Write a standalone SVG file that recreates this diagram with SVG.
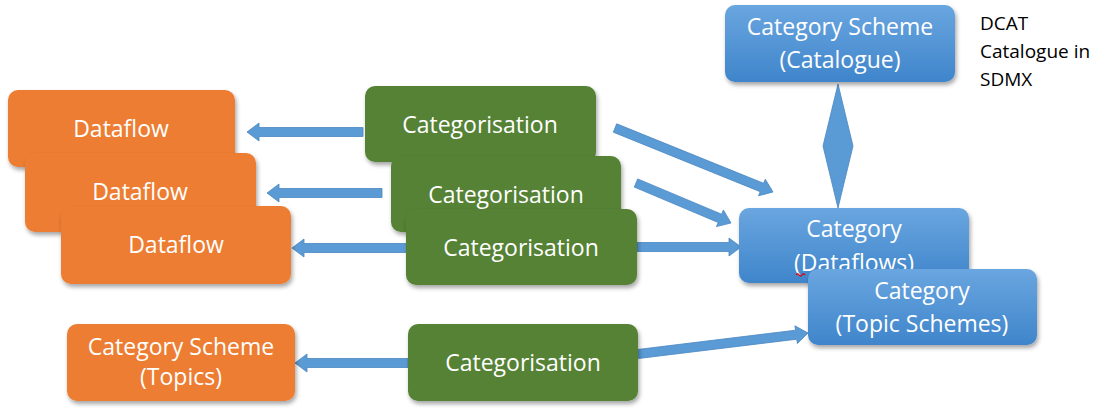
<svg xmlns="http://www.w3.org/2000/svg" width="1107" height="408" viewBox="0 0 1107 408">
<style>
  .box { stroke: none; filter: url(#shadow); }
  .orange { fill: #ED7D31; }
  .green { fill: #548235; }
  .blue { fill: url(#blueGrad); }
  .lbl { font-family: "Open Sans", "Liberation Sans", sans-serif; font-size: 23px; fill: #FFFFFF; text-anchor: middle; }
  .note { font-family: "Open Sans", "Liberation Sans", sans-serif; font-size: 19px; fill: #000000; }
  .arrow { fill: #5B9BD5; stroke: #4A86C0; stroke-width: 0.8; stroke-linejoin: miter; }
</style>
<defs>
  <linearGradient id="blueGrad" x1="0" y1="0" x2="0" y2="1">
    <stop offset="0" stop-color="#6AA6E0"/>
    <stop offset="1" stop-color="#3F85CB"/>
  </linearGradient>
  <filter id="shadow" x="-10%" y="-10%" width="125%" height="130%">
    <feDropShadow dx="1.5" dy="3" stdDeviation="2" flood-color="#000000" flood-opacity="0.35"/>
  </filter>
</defs>
<rect width="1107" height="408" fill="#FFFFFF"/>

<g id="connectors">
  <polygon class="arrow" points="363,127.5 259,127.5 259,123 247,132 259,141 259,136.5 363,136.5"/>
  <polygon class="arrow" points="382,188.5 279,188.5 279,184 267,193 279,202 279,197.5 382,197.5"/>
  <polygon class="arrow" points="407,243.5 304,243.5 304,239 292,248 304,257 304,252.5 407,252.5"/>
  <polygon class="arrow" points="637,242.5 729,242.5 729,238 741,247 729,256 729,251.5 637,251.5"/>
  <polygon class="arrow" points="616.7,123.8 763.6,183.3 765.3,179.2 773,192 758.5,195.8 760.2,191.7 613.3,132.2"/>
  <polygon class="arrow" points="637.7,178.9 721.6,214.2 723.4,210 731,223 716.4,226.6 718.2,222.5 634.3,187.1"/>
  <polygon class="arrow" points="637.4,349.5 795.5,330.2 794.9,325.8 808,333 797.4,343.6 796.7,339.2 638.6,358.5"/>
  <polygon class="arrow" points="408,358.5 307,358.5 307,354 295,363 307,372 307,367.5 408,367.5"/>
  <polygon class="arrow" id="diamond-connector" points="838,84 853,146 838,208 823,146"/>
</g>

<g id="dataflow1">
  <rect class="box orange" x="8" y="90" width="227" height="77" rx="10"/>
  <text class="lbl" x="121" y="137">Dataflow</text>
</g>
<g id="dataflow2">
  <rect class="box orange" x="25" y="153" width="231" height="79" rx="10"/>
  <text class="lbl" x="140" y="200">Dataflow</text>
</g>
<g id="dataflow3">
  <rect class="box orange" x="61" y="206" width="230" height="78" rx="10"/>
  <text class="lbl" x="176" y="253">Dataflow</text>
</g>

<g id="categorisation1">
  <rect class="box green" x="365" y="86" width="231" height="76" rx="10"/>
  <text class="lbl" x="480" y="133">Categorisation</text>
</g>
<g id="categorisation2">
  <rect class="box green" x="391" y="156" width="230" height="76" rx="10"/>
  <text class="lbl" x="506" y="203">Categorisation</text>
</g>
<g id="categorisation3">
  <rect class="box green" x="406" y="209" width="231" height="76" rx="10"/>
  <text class="lbl" x="521" y="256">Categorisation</text>
</g>

<g id="category-scheme-topics">
  <rect class="box orange" x="67" y="324" width="228" height="77" rx="10"/>
  <text class="lbl" x="181" y="355">Category Scheme</text>
  <text class="lbl" x="181" y="385">(Topics)</text>
</g>
<g id="categorisation4">
  <rect class="box green" x="408" y="324" width="230" height="77" rx="10"/>
  <text class="lbl" x="523" y="371">Categorisation</text>
</g>

<g id="category-scheme-catalogue">
  <rect class="box blue" x="725" y="5" width="230" height="77" rx="10"/>
  <text class="lbl" x="840" y="35">Category Scheme</text>
  <text class="lbl" x="840" y="68">(Catalogue)</text>
</g>

<g id="dcat-note">
  <text class="note" x="980" y="30">DCAT</text>
  <text class="note" x="980" y="58">Catalogue in</text>
  <text class="note" x="980" y="86">SDMX</text>
</g>

<g id="category-dataflows">
  <rect class="box blue" x="739" y="208" width="230" height="75" rx="10"/>
  <text class="lbl" x="854" y="271">(Dataflows)</text>
  <text class="lbl" x="854" y="237">Category</text>
  <path d="M796,275 q1.5,-2.2 3,0 t3,0 t3,0" fill="none" stroke="#E00000" stroke-width="1.3"/>
</g>

<g id="category-topic-schemes">
  <rect class="box blue" x="808" y="269" width="229" height="76" rx="10"/>
  <text class="lbl" x="922" y="299">Category</text>
  <text class="lbl" x="922" y="332">(Topic Schemes)</text>
</g>
</svg>
